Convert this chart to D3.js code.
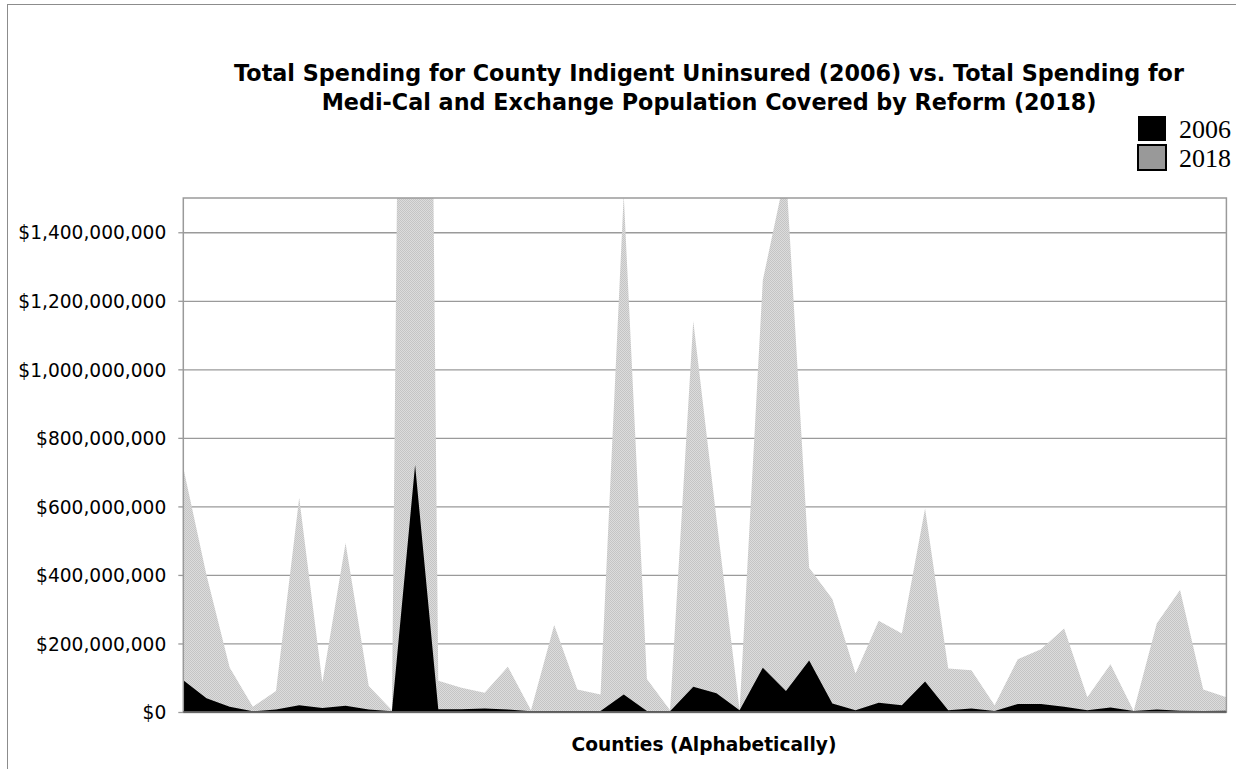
<!DOCTYPE html>
<html>
<head>
<meta charset="utf-8">
<script src="https://cdn.jsdelivr.net/npm/d3@7"></script>
<style>
  html, body { margin: 0; padding: 0; background: #fff; }
  svg { display: block; }
</style>
</head>
<body>
<svg id="chart" width="1236" height="769"></svg>
<script>
// ---- Data (values in dollars) ----
const counties = [1,2,3,4,5,6,7,8,9,10,11,12,13,14,15,16,17,18,19,20,21,22,23,
                  24,25,26,27,28,29,30,31,32,33,34,35,36,37,38,39,40,41,42,43,44,45,46];
const spending2018 = [713,400,130,15,61,625,86,493,76,5,6900,91,71,56,132,5,254,66,51,1510,96,5,1141,
                      565,5,1260,1580,421,330,112,266,229,594,127,122,20,154,183,244,43,139,3,259,356,66,43]
                      .map(v => v * 1e6);
const spending2006 = [93,40,15,2,7,20,12,18,7,2,721,8,8,10,7,2,3,3,3,51,3,2,74,
                      55,5,129,61,150,25,5,27,20,89,5,10,3,23,23,15,5,13,3,7,4,3,4]
                      .map(v => v * 1e6);
const yTicks = [0, 200e6, 400e6, 600e6, 800e6, 1000e6, 1200e6, 1400e6];
const titleLines = ["Total Spending for County Indigent Uninsured (2006) vs. Total Spending for",
                    "Medi-Cal and Exchange Population Covered by Reform (2018)"];
const seriesNames = ["2006", "2018"];
const xTitle = "Counties (Alphabetically)";

// ---- Layout ----
const svg = d3.select("#chart");
const plot = { left: 183.3, right: 1226.4, top: 198, bottom: 712 };

const x = d3.scaleLinear().domain([0, counties.length - 1]).range([plot.left, plot.right]);
const y = d3.scaleLinear().domain([0, 1.5e9]).range([plot.bottom, plot.top]);

// outer frame
svg.append("rect").attr("x", 7.5).attr("y", 4.5).attr("width", 1400).attr("height", 1000)
  .attr("fill", "none").attr("stroke", "#8c8c8c").attr("stroke-width", 1);

const defs = svg.append("defs");
const pat = defs.append("pattern").attr("id", "dither").attr("patternUnits", "userSpaceOnUse")
  .attr("width", 2).attr("height", 2);
pat.append("rect").attr("width", 2).attr("height", 2).attr("fill", "#dcdcdc");
pat.append("rect").attr("x", 0).attr("y", 0).attr("width", 1).attr("height", 1).attr("fill", "#c4c4c4");
pat.append("rect").attr("x", 1).attr("y", 1).attr("width", 1).attr("height", 1).attr("fill", "#c4c4c4");

defs.append("clipPath").attr("id", "plotclip").append("rect")
  .attr("x", plot.left).attr("y", plot.top)
  .attr("width", plot.right - plot.left).attr("height", plot.bottom - plot.top);

// gridlines + labels
const yAxis = d3.axisLeft(y).tickValues(yTicks).tickSize(-(plot.right - plot.left))
  .tickFormat(d3.format("$,.0f")).tickPadding(17);
const gy = svg.append("g").attr("transform", `translate(${plot.left},0)`).call(yAxis);
gy.select(".domain").remove();
gy.selectAll(".tick line").attr("stroke", "#9a9a9a").attr("stroke-width", 1.3);
const labels = gy.selectAll(".tick text").attr("font-family", "DejaVu Sans, Verdana, sans-serif")
  .attr("font-size", 18).attr("fill", "#000").attr("dy", "0.36em");
// fit the longest label to the reference width
let maxW = 0;
labels.each(function () { maxW = Math.max(maxW, this.getComputedTextLength()); });
labels.attr("font-size", 18 * 148 / maxW);
// small outside tick marks
gy.selectAll(".tick").append("line").attr("x1", -5).attr("x2", 0)
  .attr("stroke", "#9a9a9a").attr("stroke-width", 1.3);

// areas
const g = svg.append("g").attr("clip-path", "url(#plotclip)");
const area = d3.area().x((d, i) => x(i)).y0(y(0)).y1(d => y(d));
g.append("path").datum(spending2018).attr("d", area).attr("fill", "url(#dither)");
g.append("path").datum(spending2006).attr("d", area).attr("fill", "#000");

// plot frame
svg.append("rect").attr("x", plot.left).attr("y", plot.top)
  .attr("width", plot.right - plot.left).attr("height", plot.bottom - plot.top)
  .attr("fill", "none").attr("stroke", "#9a9a9a").attr("stroke-width", 1.5);
svg.append("line").attr("x1", plot.left).attr("x2", plot.right)
  .attr("y1", plot.bottom).attr("y2", plot.bottom).attr("stroke", "#555").attr("stroke-width", 1.3);

// fit helper
function fitWidth(sel, target) {
  const fs = parseFloat(sel.attr("font-size"));
  const w = sel.node().getComputedTextLength();
  sel.attr("font-size", fs * target / w);
}

// title
const t1 = svg.append("text").attr("x", 709).attr("y", 81).attr("text-anchor", "middle")
  .attr("font-family", "DejaVu Sans, Verdana, sans-serif").attr("font-weight", "bold")
  .attr("font-size", 20).text(titleLines[0]);
fitWidth(t1, 950);
svg.append("text").attr("x", 709).attr("y", 110).attr("text-anchor", "middle")
  .attr("font-family", "DejaVu Sans, Verdana, sans-serif").attr("font-weight", "bold")
  .attr("font-size", t1.attr("font-size")).text(titleLines[1]);

// x title
const xt = svg.append("text").attr("x", 704).attr("y", 751).attr("text-anchor", "middle")
  .attr("font-family", "DejaVu Sans, Verdana, sans-serif").attr("font-weight", "bold")
  .attr("font-size", 18).text(xTitle);
fitWidth(xt, 265);

// legend
const legend = svg.append("g");
const legendFill = ["#000", "#999"];
seriesNames.forEach((name, i) => {
  legend.append("rect").attr("x", 1138).attr("y", 116 + i * 29).attr("width", 28).attr("height", 25)
    .attr("fill", legendFill[i]).attr("stroke", "#000").attr("stroke-width", i === 0 ? 0 : 2);
  const lt = legend.append("text").attr("x", 1179).attr("y", 138 + i * 29)
    .attr("font-family", "Liberation Serif, Times New Roman, serif").attr("font-size", 25)
    .attr("fill", "#000").text(name);
  fitWidth(lt, 52);
});
</script>
</body>
</html>
